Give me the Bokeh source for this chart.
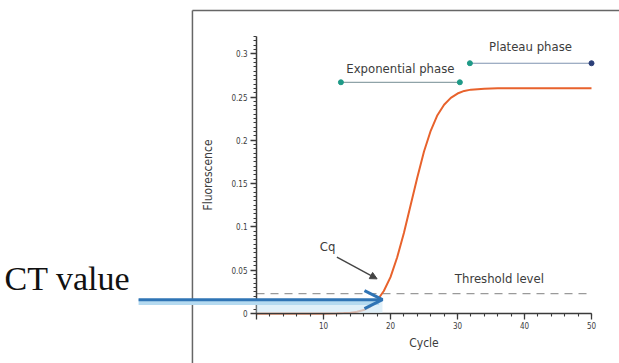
from bokeh.plotting import figure
from bokeh.models import (Range1d, FixedTicker, NumeralTickFormatter, Label, Arrow,
                          OpenHead, NormalHead, BoxAnnotation)
from bokeh.embed import file_html
from bokeh.resources import INLINE

# ---- data ----
cycles = [0, 2, 4, 6, 8, 10, 12, 13, 14, 15, 16, 17, 18, 19, 20, 21, 22, 23, 24,
          25, 26, 27, 28, 29, 30, 31, 32, 33, 34, 36, 38, 40, 42, 44, 46, 48, 50]
fluorescence = [0, 0, 0, 0, 0, 0, 0.0003, 0.0006, 0.001, 0.002, 0.004, 0.008, 0.015,
                0.026, 0.042, 0.065, 0.093, 0.125, 0.157, 0.187, 0.211, 0.229, 0.241,
                0.249, 0.254, 0.257, 0.2585, 0.259, 0.2595, 0.26, 0.26, 0.26, 0.26,
                0.26, 0.26, 0.26, 0.26]
threshold_level = 0.023
ct_cycle = 18.8
ct_arrow_level = 0.016
exp_phase = [12.6, 30.35]
exp_level = 0.267
plateau_phase = [31.85, 50.0]
plateau_level = 0.289
x_ticks = [0, 10, 20, 30, 40, 50]
y_ticks = [0, 0.05, 0.1, 0.15, 0.2, 0.25, 0.3]

FONT = "Liberation Sans Narrow, DejaVu Sans Condensed, sans-serif"
SERIF = "Liberation Serif, Times New Roman, serif"
TXT = "#3c3c3c"
AXC = "#3a3a3a"
ORANGE = "#E8622C"
BLUE = "#2F74B5"
TEAL = "#1E9A87"
NAVY = "#2B3F78"

# the frame covers the whole canvas; the axes sit at cycle 0 / fluorescence 0
p = figure(width=619, height=363, output_backend="svg", toolbar_location=None,
           x_range=Range1d(-256 / 6.7, 363 / 6.7),
           y_range=Range1d(-50 / 866.0, 313 / 866.0),
           min_border_left=0, min_border_right=0, min_border_top=0,
           min_border_bottom=0)
p.outline_line_color = None
p.grid.visible = False
p.background_fill_color = "white"
p.border_fill_color = "white"

# axes
p.xaxis.fixed_location = 0
p.yaxis.fixed_location = 0
p.xaxis.bounds = (0, 50)
p.yaxis.bounds = (0, 0.32)
p.xaxis.ticker = FixedTicker(ticks=x_ticks, minor_ticks=list(range(0, 51, 2)))
p.xaxis.major_label_overrides = {0: ""}
p.yaxis.ticker = FixedTicker(ticks=y_ticks,
                             minor_ticks=[i * 0.005 for i in range(65)])
p.yaxis.formatter = NumeralTickFormatter(format="0.[00]")
for ax in (p.xaxis[0], p.yaxis[0]):
    ax.axis_line_color = AXC
    ax.axis_line_width = 1.5
    ax.major_tick_line_color = AXC
    ax.minor_tick_line_color = AXC
    ax.major_tick_line_width = 1.3
    ax.minor_tick_line_width = 1.1
    ax.major_tick_out = 6
    ax.major_tick_in = 0
    ax.minor_tick_out = 3
    ax.minor_tick_in = 0
    ax.major_label_text_font = FONT
    ax.major_label_text_font_size = "8px"
    ax.major_label_text_color = TXT
    ax.axis_label_text_font = FONT
    ax.axis_label_text_font_size = "12px"
    ax.axis_label_text_font_style = "normal"
    ax.axis_label_text_color = TXT
p.xaxis.axis_label = "Cycle"
p.yaxis.axis_label = "Fluorescence"
p.xaxis.major_label_standoff = 2
p.xaxis.axis_label_standoff = 4
p.yaxis.major_label_standoff = 3
p.yaxis.axis_label_standoff = 13

# outer picture border (top and left edges)
p.add_layout(Arrow(end=None, x_start=-9.56, y_start=0.350, x_end=60, y_end=0.350,
                   line_color="#666666", line_width=1.5))
p.add_layout(Arrow(end=None, x_start=-9.56, y_start=0.350, x_end=-9.56, y_end=-0.07,
                   line_color="#666666", line_width=1.5))

# threshold
p.line([0, 50], [threshold_level, threshold_level], line_color="#9a9a9a",
       line_width=1.3, line_dash="8 6")
p.add_layout(Label(x=29.6, y=0.0323, text="Threshold level", text_font=FONT,
                   text_font_size="13px", text_color=TXT))

# amplification curve
p.line(cycles, fluorescence, line_color=ORANGE, line_width=2)

# phases
p.line(exp_phase, [exp_level, exp_level], line_color="#8fa3a8", line_width=1.2)
p.scatter(exp_phase, [exp_level, exp_level], size=5, color=TEAL)
p.add_layout(Label(x=sum(exp_phase) / 2, y=0.2746, text="Exponential phase",
                   text_font=FONT, text_font_size="13px", text_color=TXT,
                   text_align="center"))
p.line(plateau_phase, [plateau_level, plateau_level], line_color="#7f93b0",
       line_width=1.2)
p.scatter(plateau_phase, [plateau_level, plateau_level], size=5,
          color=[TEAL, NAVY])
p.add_layout(Label(x=40.9, y=0.2996, text="Plateau phase", text_font=FONT,
                   text_font_size="13px", text_color=TXT, text_align="center"))

# Cq marker
p.add_layout(Label(x=10.6, y=0.069, text="Cq", text_font=FONT,
                   text_font_size="13px", text_color=TXT, text_align="center"))
p.add_layout(Arrow(end=NormalHead(size=7, fill_color="#444444", line_color="#444444"),
                   x_start=12.0, y_start=0.065, x_end=18.0, y_end=0.040,
                   line_color="#444444", line_width=1.4))

# CT value arrow
p.add_layout(BoxAnnotation(left=0, right=ct_cycle, bottom=0.001, top=ct_arrow_level,
                           fill_color="#D3EAF7", fill_alpha=0.7, line_color=None))
p.add_layout(Arrow(end=None, x_start=-17.6, y_start=ct_arrow_level - 0.0028,
                   x_end=ct_cycle - 0.5, y_end=ct_arrow_level - 0.0028,
                   line_color="#B5DAF0", line_width=6))
p.add_layout(Arrow(end=OpenHead(size=18, line_color=BLUE, line_width=3),
                   x_start=-17.6, y_start=ct_arrow_level, x_end=ct_cycle,
                   y_end=ct_arrow_level, line_color=BLUE, line_width=3))
p.add_layout(Label(x=-37.6, y=0.0405, text="CT value", text_font=SERIF,
                   text_font_size="34px", text_color="#111111",
                   text_baseline="alphabetic"))

open("out.html", "w").write(file_html(p, INLINE))
